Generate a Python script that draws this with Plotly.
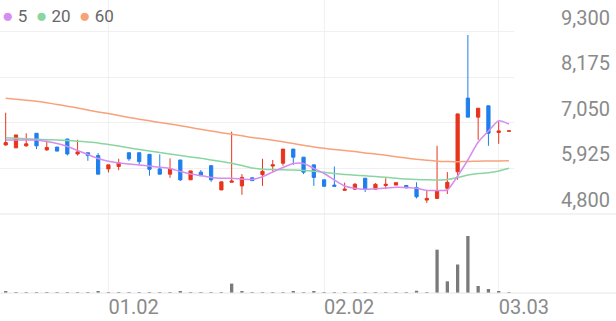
import plotly.graph_objects as go

dates = ["2025-12-16", "2025-12-17", "2025-12-18", "2025-12-19", "2025-12-22",
         "2025-12-23", "2025-12-24", "2025-12-26", "2025-12-29", "2025-12-30",
         "2026-01-02", "2026-01-05", "2026-01-06", "2026-01-07", "2026-01-08",
         "2026-01-09", "2026-01-12", "2026-01-13", "2026-01-14", "2026-01-15",
         "2026-01-16", "2026-01-19", "2026-01-20", "2026-01-21", "2026-01-22",
         "2026-01-23", "2026-01-26", "2026-01-27", "2026-01-28", "2026-01-29",
         "2026-01-30", "2026-02-02", "2026-02-03", "2026-02-04", "2026-02-05",
         "2026-02-06", "2026-02-09", "2026-02-10", "2026-02-11", "2026-02-12",
         "2026-02-13", "2026-02-19", "2026-02-20", "2026-02-23", "2026-02-24",
         "2026-02-25", "2026-02-26", "2026-02-27", "2026-03-03", "2026-03-04"]

open_ = [6500, 6430, 6480, 6790, 6380, 6450, 6650, 6280, 6310, 6240,
         5910, 5970, 6310, 6310, 6270, 5910, 5780, 6130, 5640, 5830,
         5990, 5390, 5580, 5490, 5690, 5770, 5980, 6050, 6400, 6200,
         6010, 5640, 5510, 5380, 5410, 5680, 5410, 5500, 5510, 5500,
         5450, 5140, 5180, 5430, 5840, 7660, 7190, 7470, 6810, 6840]
high = [7300, 6750, 6790, 6790, 6610, 6450, 6650, 6630, 6310, 6300,
        6010, 6160, 6310, 6310, 6270, 6270, 6170, 6130, 5860, 5880,
        5990, 5590, 6830, 5780, 5690, 6160, 6130, 6400, 6400, 6200,
        6010, 5640, 5970, 5570, 5560, 5680, 5560, 5680, 5570, 5500,
        5580, 5370, 6480, 5830, 7270, 9220, 7410, 7470, 7080, 6850]
low = [6490, 6430, 6460, 6400, 6360, 6350, 6240, 6240, 6110, 5780,
       5820, 5880, 6110, 6020, 5740, 5780, 5690, 5610, 5640, 5740,
       5590, 5390, 5580, 5270, 5620, 5490, 5840, 5990, 6010, 5780,
       5490, 5480, 5480, 5370, 5390, 5340, 5400, 5410, 5510, 5440,
       5180, 5070, 5180, 5290, 5640, 7190, 6630, 6480, 6530, 6840]
close = [6560, 6750, 6530, 6480, 6440, 6350, 6280, 6330, 6240, 5780,
         6010, 6060, 6160, 6090, 5900, 5780, 5900, 5640, 5860, 5740,
         5640, 5590, 5610, 5700, 5620, 5850, 6010, 6400, 6200, 5830,
         5700, 5480, 5480, 5410, 5530, 5400, 5530, 5530, 5570, 5440,
         5220, 5180, 5370, 5580, 7270, 7190, 7410, 6790, 6850, 6850]
volume = [57000, 14000, 14000, 34000, 34000, 34000, 23000, 34000, 23000, 86000,
          34000, 34000, 34000, 34000, 34000, 34000, 34000, 86000, 23000, 34000,
          34000, 23000, 470000, 57000, 23000, 34000, 34000, 34000, 71000, 34000,
          71000, 34000, 34000, 34000, 34000, 34000, 34000, 34000, 34000, 34000,
          114000, 34000, 2166000, 584000, 1425000, 2850000, 350000, 200000, 86000, 11000]
ma5 = [6625, 6625, 6625, 6625, 6588, 6538, 6464, 6365, 6266, 6167,
       6098, 6056, 6031, 6007, 5982, 5950, 5920, 5846, 5784, 5747,
       5698, 5678, 5678, 5660, 5648, 5717, 5834, 5945, 6044, 6044,
       5925, 5796, 5636, 5487, 5430, 5406, 5418, 5438, 5455, 5450,
       5430, 5376, 5376, 5388, 5735, 6130, 6575, 6847, 7102, 7020]
ma20 = [6682, 6669, 6657, 6645, 6632, 6625, 6612, 6595, 6575, 6551,
        6513, 6476, 6432, 6390, 6353, 6316, 6279, 6241, 6204, 6172,
        6130, 6093, 6049, 5994, 5932, 5900, 5895, 5888, 5883, 5871,
        5851, 5826, 5796, 5772, 5754, 5740, 5722, 5702, 5678, 5660,
        5648, 5641, 5636, 5648, 5698, 5759, 5796, 5816, 5858, 5925]
ma60 = [7656, 7631, 7606, 7582, 7545, 7502, 7460, 7416, 7366, 7317,
        7280, 7230, 7183, 7139, 7099, 7057, 7020, 6978, 6934, 6889,
        6847, 6805, 6768, 6729, 6686, 6654, 6617, 6580, 6538, 6494,
        6452, 6419, 6390, 6365, 6340, 6303, 6279, 6246, 6209, 6180,
        6148, 6123, 6101, 6091, 6088, 6093, 6101, 6105, 6108, 6110]

tick_dates = ["2026-01-02", "2026-02-02", "2026-03-03"]
tick_labels = ["01.02", "02.02", "03.03"]
price_ticks = [4800, 5925, 7050, 8175, 9300]
ma_names = ["5", "20", "60"]
ma_colors = ["#d68cf0", "#88d6a0", "#f8a27c"]

RED = "#e8341c"
BLUE = "#1f7fec"
W, H = 616, 321
FONT = "Roboto"

fig = go.Figure()

for vals, name, col in zip([ma60, ma20, ma5], ma_names[::-1], ma_colors[::-1]):
    fig.add_trace(go.Scatter(x=dates, y=vals, mode="lines", name=name,
                             line=dict(color=col, width=1.5, shape="spline", smoothing=0.6),
                             xaxis="x2", yaxis="y", showlegend=False, hoverinfo="skip"))

fig.add_trace(go.Candlestick(
    x=dates, open=open_, high=high, low=low, close=close,
    increasing=dict(line=dict(color=RED, width=1), fillcolor=RED),
    decreasing=dict(line=dict(color=BLUE, width=1), fillcolor=BLUE),
    whiskerwidth=0, xaxis="x2", yaxis="y", showlegend=False))

fig.add_trace(go.Bar(x=dates, y=volume, marker=dict(color="#7a7a7a", line=dict(width=0)),
                     width=0.32, xaxis="x", yaxis="y2", showlegend=False))

plot_right = 514 / W
x_range = [-0.555, 49.49]
grid = "#f0f0f0"

fig.update_layout(
    template="none",
    width=W, height=H,
    margin=dict(l=0, r=0, t=0, b=0, autoexpand=False),
    paper_bgcolor="white", plot_bgcolor="white",
    boxgap=0.55, bargap=0.6,
    font=dict(family=FONT, color="#808080"),
    xaxis=dict(domain=[0, plot_right], anchor="y2", type="category", range=x_range,
               autorange=False, automargin=False,
               tickmode="array", tickvals=tick_dates, ticktext=tick_labels,
               ticklabelposition="outside right", tickfont=dict(size=20, color="#8a8a8a"),
               showgrid=True, gridcolor=grid, gridwidth=1, zeroline=False,
               showline=False, ticks="", rangeslider=dict(visible=False), fixedrange=True),
    xaxis2=dict(domain=[0, plot_right], anchor="y", type="category", matches="x",
                range=x_range, autorange=False, automargin=False,
                tickmode="array", tickvals=tick_dates,
                showticklabels=False, showgrid=True, gridcolor=grid, gridwidth=1,
                zeroline=False, showline=False, ticks="", rangeslider=dict(visible=False)),
    yaxis=dict(domain=[1 - 213.8 / H, 1], range=[4800, 10086], side="right",
               autorange=False, automargin=False,
               tickmode="array", tickvals=price_ticks, showticklabels=False,
               showgrid=True, gridcolor=grid, gridwidth=1, zeroline=False, showline=False),
    yaxis2=dict(domain=[1 - 293 / H, 1 - 214 / H], range=[0, 3950000],
                autorange=False, automargin=False,
                showgrid=False, showticklabels=False, zeroline=False, showline=False),
    showlegend=False,
)

# price labels (right side, above the grid lines)
for v in price_ticks:
    fig.add_annotation(x=612 / W, xref="paper", xanchor="right", y=v, yref="y",
                       yanchor="bottom", yshift=0, text=f"{v:,}", showarrow=False,
                       font=dict(family=FONT, size=20, color="#8a8a8a"))

# panel separator lines spanning full width
for yp in [1 - 214 / H, 1 - 293 / H]:
    fig.add_shape(type="line", xref="paper", yref="paper", x0=0, x1=1, y0=yp, y1=yp,
                  line=dict(color="#e6e6e6", width=1))

legend_text = "  ".join(
    f'<span style="color:{c};font-size:19px">●</span> {n}' for n, c in zip(ma_names, ma_colors))
fig.add_annotation(x=0, xref="paper", xanchor="left", y=1 - 15 / H, yref="paper",
                   yanchor="middle", text=legend_text, showarrow=False, align="left",
                   font=dict(family=FONT, size=17, color="#666666"))

fig.write_html("out.html")
